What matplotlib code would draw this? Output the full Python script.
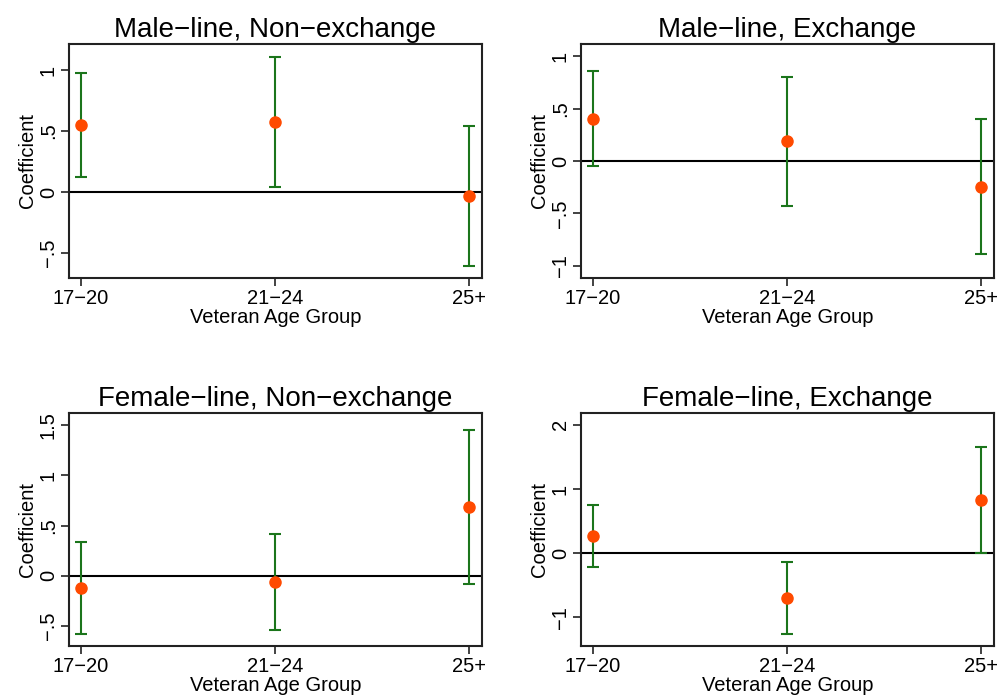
import matplotlib
matplotlib.use('Agg')
import matplotlib.pyplot as plt

plt.rcParams['font.family'] = ['Liberation Sans', 'DejaVu Sans']

groups = ['17\u221220', '21\u221224', '25+']
xlabel = 'Veteran Age Group'
ylabel = 'Coefficient'

titles = ['Male\u2212line, Non\u2212exchange', 'Male\u2212line, Exchange',
          'Female\u2212line, Non\u2212exchange', 'Female\u2212line, Exchange']

# point estimates, lower and upper CI bounds per panel
male_nonex_coef = [0.55, 0.575, -0.033]
male_nonex_lo = [0.125, 0.044, -0.604]
male_nonex_hi = [0.98, 1.11, 0.544]

male_ex_coef = [0.404, 0.188, -0.245]
male_ex_lo = [-0.051, -0.427, -0.888]
male_ex_hi = [0.862, 0.805, 0.401]

female_nonex_coef = [-0.122, -0.06, 0.685]
female_nonex_lo = [-0.579, -0.536, -0.076]
female_nonex_hi = [0.335, 0.417, 1.45]

female_ex_coef = [0.27, -0.70, 0.83]
female_ex_lo = [-0.218, -1.262, 0.005]
female_ex_hi = [0.748, -0.135, 1.662]

yticks = [[-0.5, 0, 0.5, 1], [-1, -0.5, 0, 0.5, 1],
          [-0.5, 0, 0.5, 1, 1.5], [-1, 0, 1, 2]]
yticklabels = [['\u2212.5', '0', '.5', '1'], ['\u22121', '\u2212.5', '0', '.5', '1'],
               ['\u2212.5', '0', '.5', '1', '1.5'], ['\u22121', '0', '1', '2']]
ylims = [(-0.705, 1.213), (-1.118, 1.118), (-0.698, 1.619), (-1.449, 2.185)]

panels = [(male_nonex_coef, male_nonex_lo, male_nonex_hi),
          (male_ex_coef, male_ex_lo, male_ex_hi),
          (female_nonex_coef, female_nonex_lo, female_nonex_hi),
          (female_ex_coef, female_ex_lo, female_ex_hi)]

# axes boxes [left, bottom, width, height] in figure fraction
boxes = [[0.069, 0.603, 0.413, 0.334], [0.581, 0.603, 0.413, 0.334],
         [0.069, 0.077, 0.413, 0.333], [0.581, 0.077, 0.413, 0.333]]

green = '#1b751b'
orange = '#ff4a00'

fig = plt.figure(figsize=(10, 7), dpi=100)
for i, (coef, lo, hi) in enumerate(panels):
    ax = fig.add_axes(boxes[i])
    x = [1, 2, 3]
    err = [[c - l for c, l in zip(coef, lo)], [h - c for c, h in zip(coef, hi)]]
    ax.axhline(0, color='black', lw=1.5, zorder=1)
    ax.errorbar(x, coef, yerr=err, fmt='none', ecolor=green, elinewidth=1.5,
                capsize=4.5, capthick=1.5, zorder=2)
    ax.plot(x, coef, 'o', color=orange, markersize=8, zorder=3)
    ax.set_xlim(0.938, 3.067)
    ax.set_ylim(*ylims[i])
    ax.set_xticks(x)
    ax.set_xticklabels(groups, fontsize=14.5)
    ax.set_yticks(yticks[i])
    ax.set_yticklabels(yticklabels[i], fontsize=14.5, rotation=90, va='center')
    ax.tick_params(length=6, width=1.2, color='#222222', pad=2)
    for s in ax.spines.values():
        s.set_linewidth(1.5)
        s.set_color('#222222')
    ax.set_title(titles[i], fontsize=20, pad=5)
    ax.set_xlabel(xlabel, fontsize=14.5, labelpad=0)
    ax.set_ylabel(ylabel, fontsize=14.5, labelpad=1)

fig.savefig('out.png', dpi=100)
